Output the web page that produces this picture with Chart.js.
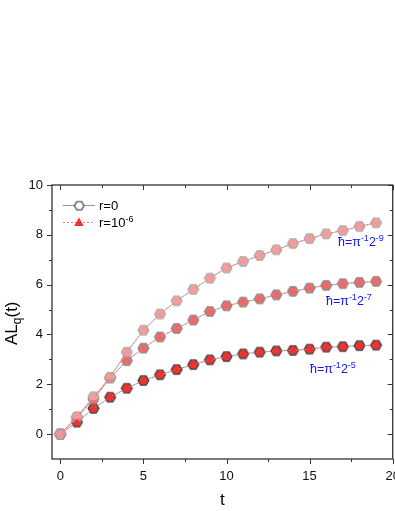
<!DOCTYPE html>
<html><head><meta charset="utf-8">
<script src="https://cdn.jsdelivr.net/npm/chart.js@4.4.0/dist/chart.umd.min.js"></script>
<style>html,body{margin:0;padding:0;background:#fff}canvas{display:block}</style>
</head><body>
<canvas id="c" width="395" height="511"></canvas>
<script>
// ---- data ----
const tValues = [0,1,2,3,4,5,6,7,8,9,10,11,12,13,14,15,16,17,18,19];
// hbar = pi^-1 2^-9
const r0_h9  = [0,0.70,1.50,2.28,3.29,4.17,4.82,5.35,5.81,6.26,6.67,6.93,7.17,7.40,7.65,7.85,8.04,8.17,8.34,8.48];
const r6_h9  = [0,0.72,1.46,2.28,3.29,4.17,4.82,5.35,5.81,6.26,6.67,6.93,7.17,7.40,7.65,7.85,8.04,8.17,8.34,8.48];
// hbar = pi^-1 2^-7
const r0_h7  = [0,0.66,1.40,2.25,2.95,3.45,3.90,4.24,4.58,4.92,5.15,5.30,5.43,5.59,5.73,5.86,5.97,6.04,6.09,6.13];
const r6_h7  = [0,0.66,1.40,2.25,2.95,3.45,3.90,4.24,4.58,4.92,5.15,5.30,5.43,5.59,5.73,5.86,5.97,6.04,6.09,6.13];
// hbar = pi^-1 2^-5
const r0_h5  = [0,0.48,1.03,1.48,1.84,2.15,2.38,2.59,2.79,2.98,3.11,3.22,3.29,3.34,3.36,3.41,3.49,3.51,3.55,3.57];
const r6_h5  = [0,0.48,1.03,1.48,1.84,2.15,2.38,2.59,2.79,2.98,3.11,3.22,3.29,3.34,3.36,3.41,3.49,3.51,3.55,3.57];
const xMajorTicks = [0,5,10,15,20];
const yMajorTicks = [0,2,4,6,8,10];
const legendLabels = ['r=0','r=10'];
const curveLabels = [['ħ=π','-1','2','-9'],['ħ=π','-1','2','-7'],['ħ=π','-1','2','-5']];

const pts = arr => tValues.map((t,i)=>({x:t,y:arr[i]}));

function hexagon(fill, stroke, r){
  const s = Math.ceil(2*r+4);
  const c = document.createElement('canvas'); c.width=s; c.height=s;
  const g = c.getContext('2d');
  g.beginPath();
  for(let i=0;i<6;i++){const a=Math.PI/3*i; const x=s/2+r*Math.cos(a), y=s/2+r*Math.sin(a); i?g.lineTo(x,y):g.moveTo(x,y);}
  g.closePath();
  g.fillStyle=fill; g.fill();
  g.lineWidth=1.4; g.strokeStyle=stroke; g.stroke();
  return c;
}

const FONT = '"Liberation Sans", Arial, sans-serif';
const PLOT_RIGHT = 392.7;

function triSet(data, color){
  return {data:pts(data), showLine:true, borderColor:'rgba(230,130,130,0.9)', borderWidth:1, borderDash:[2,2],
    pointStyle:'triangle', pointRadius:4.6, pointBackgroundColor:color, pointBorderColor:color, pointBorderWidth:0.5, pointHoverRadius:4.6};
}
function hexSet(data, fill, stroke){
  return {data:pts(data), showLine:true, borderColor:'#c8a8a8', borderWidth:1,
    pointStyle:hexagon(fill, stroke, 5.3), pointRadius:5, pointHoverRadius:5};
}

function richText(ctx, parts, x, y, size){
  let cx = x;
  parts.forEach((p,i)=>{
    const sup = i%2===1;
    ctx.font = (sup? Math.round(size*0.68) : size) + 'px ' + FONT;
    ctx.fillText(p, cx, sup ? y - size*0.42 : y);
    cx += ctx.measureText(p).width;
  });
}

const fixArea = {
  id:'fixArea',
  afterLayout(chart){
    const a = chart.chartArea, xs = chart.scales.x;
    if (Math.abs(a.right - PLOT_RIGHT) > 0.2){
      a.right = PLOT_RIGHT; a.width = a.right - a.left;
      xs.right = PLOT_RIGHT; xs.width = xs.right - xs.left;
      xs.configure();
    }
  }
};

const decor = {
  id:'decor',
  afterDraw(chart){
    const ctx = chart.ctx, a = chart.chartArea, xs = chart.scales.x, ys = chart.scales.y;
    ctx.save();
    ctx.strokeStyle = '#333'; ctx.lineWidth = 1.3;
    ctx.strokeRect(a.left, a.top, a.right-a.left, a.bottom-a.top);
    ctx.lineWidth = 1;
    ctx.beginPath();
    for (let v=0; v<=20; v+=2.5){
      const px = Math.round(xs.getPixelForValue(v))+0.5;
      const L = (v%5===0)?5:3;
      ctx.moveTo(px, a.bottom); ctx.lineTo(px, a.bottom+L);
      ctx.moveTo(px, a.top); ctx.lineTo(px, a.top+L);
    }
    for (let v=0; v<=10; v+=1){
      const py = Math.round(ys.getPixelForValue(v))+0.5;
      const L = (v%2===0)?5:3;
      ctx.moveTo(a.left, py); ctx.lineTo(a.left-L, py);
      ctx.moveTo(a.right, py); ctx.lineTo(a.right-L, py);
    }
    ctx.stroke();

    // axis titles
    ctx.fillStyle = '#000';
    ctx.textBaseline = 'alphabetic';
    ctx.font = '17px ' + FONT;
    ctx.textAlign = 'center';
    ctx.fillText('t', (a.left+a.right)/2, 505);
    ctx.textAlign = 'left';
    ctx.save();
    ctx.translate(17, 345);
    ctx.rotate(-Math.PI/2);
    ctx.font = '17px ' + FONT;
    ctx.fillText('AL', 0, 0);
    let w = ctx.measureText('AL').width;
    ctx.font = '12px ' + FONT;
    ctx.fillText('q', w, 4);
    w += ctx.measureText('q').width;
    ctx.font = '17px ' + FONT;
    ctx.fillText('(t)', w, 0);
    ctx.restore();

    // legend
    ctx.beginPath(); ctx.strokeStyle='#999'; ctx.lineWidth=1;
    ctx.moveTo(63,205.5); ctx.lineTo(95,205.5); ctx.stroke();
    ctx.drawImage(hexagon('#fff','#555',4.8), 79-6.8, 205.5-6.8);
    ctx.beginPath(); ctx.strokeStyle='rgba(235,110,110,0.9)'; ctx.setLineDash([2,2]);
    ctx.moveTo(63,222.5); ctx.lineTo(95,222.5); ctx.stroke(); ctx.setLineDash([]);
    ctx.fillStyle='#f03535'; ctx.beginPath();
    ctx.moveTo(79,217.5); ctx.lineTo(83.8,226); ctx.lineTo(74.2,226); ctx.closePath(); ctx.fill();
    ctx.fillStyle='#000';
    ctx.font = '13px ' + FONT;
    ctx.fillText(legendLabels[0], 99, 210);
    richText(ctx, [legendLabels[1], '-6'], 99, 227, 13);

    // curve labels
    ctx.fillStyle = '#1414ff';
    richText(ctx, curveLabels[0], 338, 246, 12.5);
    richText(ctx, curveLabels[1], 326, 305, 12.5);
    richText(ctx, curveLabels[2], 310, 373, 12.5);
    ctx.restore();
  }
};

new Chart(document.getElementById('c'), {
  type:'scatter',
  data:{datasets:[
    triSet(r6_h9,'#f59a9a'),
    triSet(r6_h7,'#ee6868'),
    triSet(r6_h5,'#ee3232'),
    hexSet(r0_h9,'#f2a4a4','#a6a6a6'),
    hexSet(r0_h7,'#e87474','#858585'),
    hexSet(r0_h5,'#dd3a3a','#404040')
  ]},
  options:{
    responsive:false, animation:false, devicePixelRatio:1,
    layout:{padding:{top:185,left:0,right:2,bottom:0}},
    plugins:{legend:{display:false}, tooltip:{enabled:false}},
    scales:{
      x:{type:'linear', min:-0.5, max:20,
        afterBuildTicks(s){ s.ticks = xMajorTicks.map(v=>({value:v})); },
        afterFit(s){ s.height = 52; s.paddingLeft = 0; s.paddingRight = 0; },
        grid:{display:false, drawTicks:false}, border:{display:false},
        ticks:{padding:10, color:'#111', font:{family:FONT, size:13}, maxRotation:0, autoSkip:false}
      },
      y:{type:'linear', min:-1, max:10,
        afterBuildTicks(s){ s.ticks = yMajorTicks.map(v=>({value:v})); },
        afterFit(s){ s.width = 52; s.paddingTop = 0; s.paddingBottom = 0; },
        grid:{display:false, drawTicks:false}, border:{display:false},
        ticks:{padding:9, color:'#111', font:{family:FONT, size:13}}
      }
    }
  },
  plugins:[fixArea, decor]
});
</script>
</body></html>
